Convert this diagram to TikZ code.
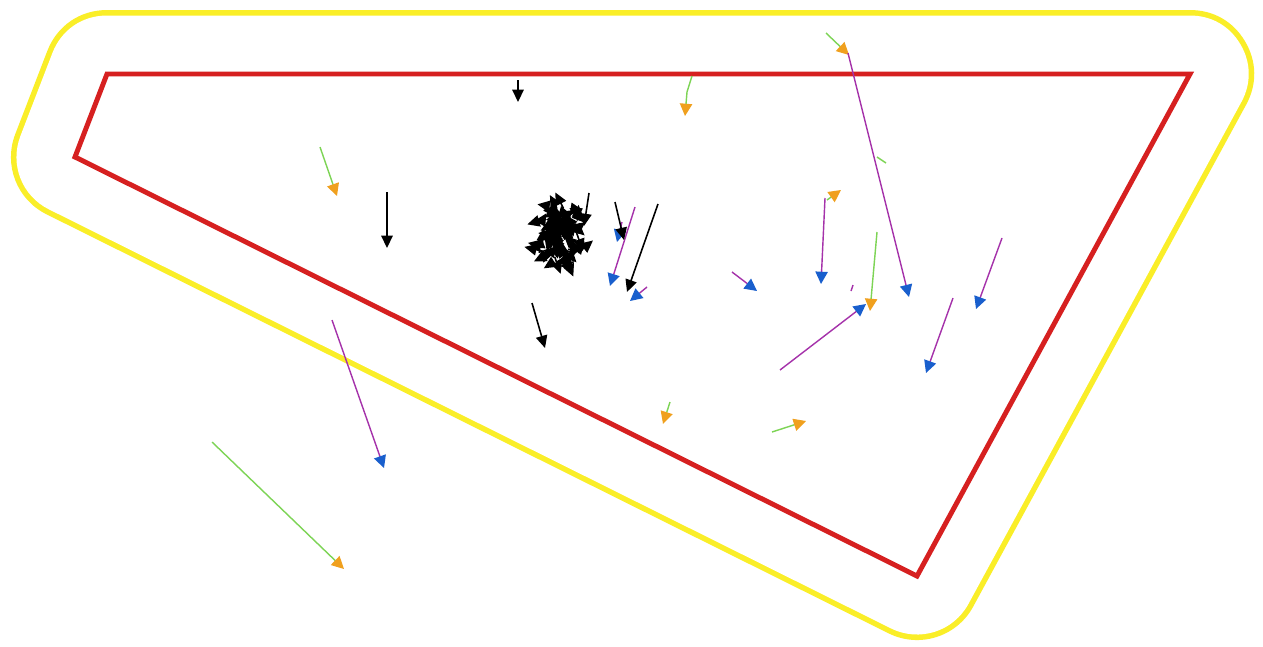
\documentclass[tikz,border=0pt]{standalone}
\usetikzlibrary{arrows.meta}
\definecolor{cRed}{RGB}{214,32,32}
\definecolor{cYel}{RGB}{250,238,40}
\definecolor{cGrn}{RGB}{125,212,85}
\definecolor{cOra}{RGB}{240,160,30}
\definecolor{cPur}{RGB}{165,50,170}
\definecolor{cBlu}{RGB}{25,95,205}

\begin{document}
\begin{tikzpicture}[x=0.02cm, y=-0.02cm,
    greenarr/.style={draw=cGrn, line width=0.8pt, -{Triangle[length=7pt,width=7pt,color=cOra,fill=cOra]}},
    purplearr/.style={draw=cPur, line width=0.8pt, -{Triangle[length=7pt,width=7pt,color=cBlu,fill=cBlu]}},
    blackarr/.style={draw=black, line width=0.9pt, -{Triangle[length=7pt,width=6.5pt]}}]
    \useasboundingbox (0,0) rectangle (1263,646);
    \fill[white] (0,0) rectangle (1263,646);

    % rounded outer border, then the field
    \draw[cYel, line width=2.56cm, line join=round] (107,74) -- (1190,74) -- (917,576) -- (75,157) -- cycle;
    \draw[white, line width=2.34cm, line join=round] (107,74) -- (1190,74) -- (917,576) -- (75,157) -- cycle;
    \fill[white] (107,74) -- (1190,74) -- (917,576) -- (75,157) -- cycle;
    \draw[cRed, line width=2.8pt] (107,74) -- (1190,74) -- (917,576) -- (75,157) -- cycle;

    % green / orange
    \draw[greenarr] (826,33) -- (849,55);
    \draw[greenarr] (692,76) -- (687,92) -- (685,116);
    \draw[greenarr] (320,147) -- (337,196);
    \draw[greenarr] (827,200) -- (841,190);
    \draw[greenarr] (877,232) -- (870,311);
    \draw[greenarr] (212,442) -- (344,569);
    \draw[greenarr] (670,402) -- (663,424);
    \draw[greenarr] (772,432) -- (806,421);
    \draw[cGrn, line width=0.8pt] (877,157) -- (886,163);

    % purple / blue
    \draw[purplearr] (848,53) -- (909,297);
    \draw[purplearr] (635,207) -- (610,286);
    \draw[purplearr] (622,222) -- (617,242);
    \draw[purplearr] (647,287) -- (630,301);
    \draw[purplearr] (732,272) -- (757,291);
    \draw[purplearr] (825,198) -- (821,284);
    \draw[purplearr] (780,370) -- (866,304);
    \draw[purplearr] (1002,238) -- (976,309);
    \draw[purplearr] (953,298) -- (926,373);
    \draw[purplearr] (332,320) -- (384,468);
    \draw[cPur, line width=0.8pt] (851,291) -- (853,285);

    % black
    \draw[blackarr] (518,80) -- (518,102);
    \draw[blackarr] (387,192) -- (387,248);
    \draw[blackarr] (615,202) -- (624,240);
    \draw[blackarr] (658,204) -- (627,292);
    \draw[blackarr] (532,303) -- (545,348);
    \draw[blackarr] (589,193) -- (584,226);
    \pgfmathsetseed{4}
    \foreach \i in {1,...,75} {
        \pgfmathsetmacro\cx{559+20*rand}
        \pgfmathsetmacro\cy{234+28*rand}
        \pgfmathsetmacro\ang{360*rnd}
        \pgfmathsetmacro\len{8+12*rnd}
        \draw[blackarr] (\cx,\cy) -- ++(\ang:\len);
    }
\end{tikzpicture}
\end{document}
